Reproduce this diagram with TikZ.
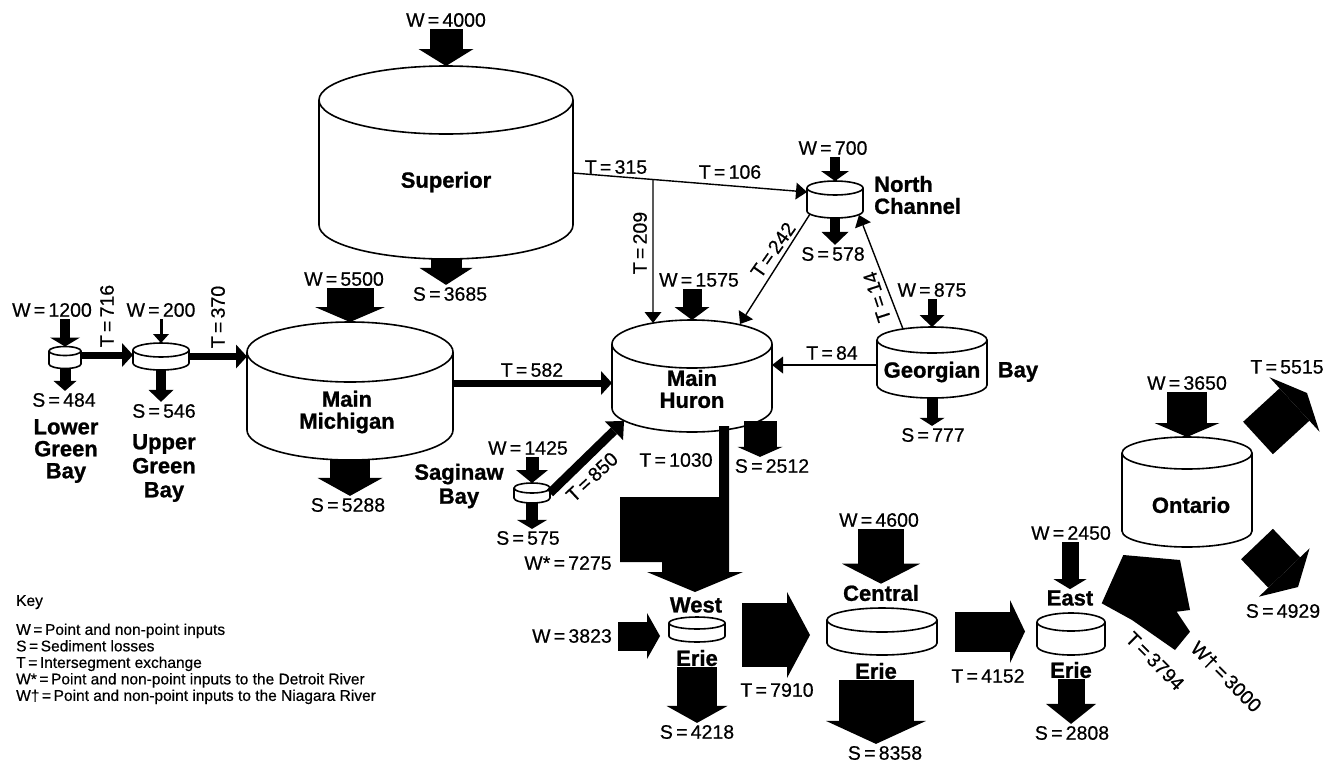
\documentclass[tikz,border=0pt]{standalone}
\usepackage{fontspec}
\setmainfont{Liberation Sans}
\newfontfamily\lblfont{Liberation Sans}[FakeBold=0.5]
\newfontfamily\namefont{Liberation Sans}[FakeBold=1]
\usetikzlibrary{arrows.meta,calc}

% cylinder outline round a lake node: node, x radius, y radius
\newcommand{\drawlake}[3]{%
  \filldraw[lakeline] ([yshift=-#3pt]#1.north west) -- ([yshift=#3pt]#1.south west)
    arc[start angle=180,end angle=360,x radius=#2,y radius=#3]
    -- ([yshift=-#3pt]#1.north east)
    arc[start angle=0,end angle=180,x radius=#2,y radius=#3] -- cycle;
  \draw[lakeline] ([yshift=-#3pt]#1.north east) arc[start angle=0,end angle=-180,x radius=#2,y radius=#3];
}

\begin{document}
\begin{tikzpicture}[x=1pt,y=1pt]
\tikzset{lake/.style={inner sep=0pt,outer sep=0pt},
  lakeline/.style={line width=1.6pt,draw=black,fill=white},
  lakename/.style={font=\namefont\bfseries\fontsize{22}{22}\selectfont,align=center,inner sep=1pt},
  lbl/.style={font=\lblfont\fontsize{19.5}{21}\selectfont,inner sep=2pt},
  keytxt/.style={font=\lblfont\fontsize{15.5}{16.5}\selectfont,align=left,inner sep=0pt},
  bigflow/.style n args={3}{line width=#1pt,-{Triangle[width=#2pt,length=#3pt,line width=0pt]}},
  tbar/.style={line width=7pt,-{Triangle[width=24pt,length=11pt,line width=0pt]}},
  tline/.style={line width=1.4pt,-{Triangle[width=17pt,length=11pt,line width=0pt]}}}
\useasboundingbox (0,0) rectangle (1336,-764);

% lakes
\node[lake,minimum width=254pt,minimum height=193pt] (sup) at (446,-162.5) {};
\node[lake,minimum width=206pt,minimum height=138pt] (mic) at (350,-391) {};
\node[lake,minimum width=160pt,minimum height=112pt] (hur) at (692,-376) {};
\node[lake,minimum width=32pt,minimum height=22pt] (lgb) at (65,-357.5) {};
\node[lake,minimum width=56pt,minimum height=27pt] (ugb) at (161,-356.5) {};
\node[lake,minimum width=56pt,minimum height=37pt] (nc) at (835,-199.5) {};
\node[lake,minimum width=110pt,minimum height=71pt] (gb) at (932,-362.5) {};
\node[lake,minimum width=36pt,minimum height=20pt] (sag) at (532,-493) {};
\node[lake,minimum width=56pt,minimum height=25pt] (we) at (697,-629.5) {};
\node[lake,minimum width=110pt,minimum height=47pt] (ce) at (882,-631.5) {};
\node[lake,minimum width=68pt,minimum height=42pt] (ee) at (1071,-634) {};
\node[lake,minimum width=130pt,minimum height=110pt] (ont) at (1187,-492) {};
\drawlake{sup}{127}{34}
\drawlake{mic}{103}{30}
\drawlake{hur}{80}{24}
\drawlake{lgb}{16}{4.5}
\drawlake{ugb}{28}{7}
\drawlake{nc}{28}{7}
\drawlake{gb}{55}{13}
\drawlake{sag}{18}{5}
\drawlake{we}{28}{6}
\drawlake{ce}{55}{12}
\drawlake{ee}{34}{9}
\drawlake{ont}{65}{16}

\node[lakename] (supt) at (446,-182) {Superior};
\node[lakename] (mict) at (347,-412) {Main\\Michigan};
\node[lakename] (hurt) at (692,-389) {Main\\Huron};
\node[lakename] (lgbt) at (66,-451) {Lower\\Green\\Bay};
\node[lakename] (ugbt) at (164,-468) {Upper\\[2pt]Green\\[2pt]Bay};
\node[lakename,align=left,anchor=west] (nct) at (873,-195) {North\\Channel};
\node[lakename] (gbt) at (932,-372) {Georgian};
\node[lakename] (gbt2) at (1018,-372) {Bay};
\node[lakename] (sagt) at (459,-486) {Saginaw\\[2pt]Bay};
\node[lakename] (wet) at (696,-605) {West};
\node[lakename] (wet2) at (697,-658) {Erie};
\node[lakename] (cet) at (881,-593) {Central};
\node[lakename] (cet2) at (876,-671) {Erie};
\node[lakename] (eet) at (1070,-598) {East};
\node[lakename] (eet2) at (1071,-670) {Erie};
\node[lakename] (ontt) at (1191,-505) {Ontario};

% inputs
\node[lbl] (w4000) at (446,-20) {W\,=\,4000};
\node[lbl] (w5500) at (344,-279) {W\,=\,5500};
\node[lbl] (w1200) at (52,-310) {W\,=\,1200};
\node[lbl] (w200) at (161,-310) {W\,=\,200};
\node[lbl] (w1575) at (699,-280) {W\,=\,1575};
\node[lbl] (w700) at (833,-148) {W\,=\,700};
\node[lbl] (w875) at (932,-290) {W\,=\,875};
\node[lbl] (w1425) at (528,-448) {W\,=\,1425};
\node[lbl] (wstar) at (568,-563) {W*\,=\,7275};
\node[lbl] (w3823) at (572,-636) {W\,=\,3823};
\node[lbl] (w4600) at (879,-520) {W\,=\,4600};
\node[lbl] (w2450) at (1071,-533) {W\,=\,2450};
\node[lbl] (w3650) at (1187,-383) {W\,=\,3650};

% losses
\node[lbl] (s3685) at (450,-294) {S\,=\,3685};
\node[lbl] (s5288) at (348,-505) {S\,=\,5288};
\node[lbl] (s484) at (64,-400) {S\,=\,484};
\node[lbl] (s546) at (164,-411) {S\,=\,546};
\node[lbl] (s578) at (833,-254) {S\,=\,578};
\node[lbl] (s777) at (933,-435) {S\,=\,777};
\node[lbl] (s575) at (528,-538) {S\,=\,575};
\node[lbl] (s2512) at (772,-466) {S\,=\,2512};
\node[lbl] (s4218) at (697,-732) {S\,=\,4218};
\node[lbl] (s8358) at (885,-753) {S\,=\,8358};
\node[lbl] (s2808) at (1072,-733) {S\,=\,2808};
\node[lbl] (s4929) at (1283,-611) {S\,=\,4929};

% exchanges
\node[lbl] (t315) at (616,-167) {T\,=\,315};
\node[lbl] (t106) at (730,-172) {T\,=\,106};
\node[lbl,rotate=90] (t209) at (640,-243) {T\,=\,209};
\node[lbl,rotate=55] (t242) at (773,-250) {T\,=\,242};
\node[lbl,rotate=108] (t14) at (877,-297) {T\,=\,14};
\node[lbl] (t84) at (832,-353) {T\,=\,84};
\node[lbl] (t582) at (532,-370) {T\,=\,582};
\node[lbl,rotate=90] (t716) at (107,-316) {T\,=\,716};
\node[lbl,rotate=90] (t370) at (218,-317) {T\,=\,370};
\node[lbl,rotate=43] (t850) at (592,-477) {T\,=\,850};
\node[lbl] (t1030) at (676,-460) {T\,=\,1030};
\node[lbl] (t7910) at (777,-690) {T\,=\,7910};
\node[lbl] (t4152) at (988,-676) {T\,=\,4152};
\node[lbl] (t5515) at (1287,-367) {T\,=\,5515};
\node[lbl,rotate=-45] (t3794) at (1155,-661) {T\,=\,3794};
\node[lbl,rotate=-45] (wdag) at (1226,-677) {W†\,=\,3000};

% input arrows
\draw[bigflow={33}{55}{17}] (w4000.south -| sup.north) -- (sup.north);
\draw[bigflow={47}{70}{15}] (w5500.south -| mic.north) -- (mic.north);
\draw[bigflow={10}{30}{9}] (w1200.south -| lgb.north) -- (lgb.north);
\draw[bigflow={3}{16}{9}] (w200.south -| ugb.north) -- (ugb.north);
\draw[bigflow={19}{35}{13}] (w1575.south -| hur.north) -- (hur.north);
\draw[bigflow={10}{28}{10}] (w700.south -| nc.north) -- (nc.north);
\draw[bigflow={9}{25}{12}] (w875.south -| gb.north) -- (gb.north);
\draw[bigflow={13}{32}{13}] (w1425.south -| sag.north) -- (sag.north);
\draw[bigflow={46}{78}{20}] (w4600.south -| cet.north) -- (cet.north);
\draw[bigflow={17}{33}{10}] (w2450.south -| eet.north) -- (eet.north);
\draw[bigflow={40}{65}{14}] (w3650.south -| ont.north) -- (ont.north);
\draw[bigflow={29}{46}{13},shorten <=4pt,shorten >=9pt] (w3823.east) -- (w3823.east -| we.west);

% loss arrows
\draw[bigflow={31}{53}{17}] (sup.south) -- (sup.south |- s3685.north);
\draw[bigflow={40}{65}{18}] (mic.south) -- (mic.south |- s5288.north);
\draw[bigflow={11}{23}{10}] (lgb.south) -- (lgb.south |- s484.north);
\draw[bigflow={10}{25}{12}] (ugb.south) -- (ugb.south |- s546.north);
\draw[bigflow={10}{27}{13}] (nc.south) -- (nc.south |- s578.north);
\draw[bigflow={11}{25}{8}] (gb.south) -- (gb.south |- s777.north);
\draw[bigflow={12}{30}{9}] (sag.south) -- (sag.south |- s575.north);
\coordinate (hurs) at ($(hur.south)+(68,11)$);
\draw[bigflow={33}{45}{10}] (hurs) -- (hurs |- s2512.north);
\draw[bigflow={40}{61}{17}] (wet2.south) -- (wet2.south |- s4218.north);
\draw[bigflow={75}{100}{23}] (cet2.south) -- (cet2.south |- s8358.north);
\draw[bigflow={27}{50}{20}] (eet2.south) -- (eet2.south |- s2808.north);

% exchange arrows
\coordinate (supout) at ([yshift=-10.5pt]sup.east);
\coordinate (ncin) at ([yshift=7.5pt]nc.west);
\draw[tline] (supout) -- (ncin);
\coordinate (junc) at ($(supout)!0.342!(ncin)$);
\draw[tline] (junc) -- ($(hur.north)+(-39,-3)$);
\draw[tline] ($(nc.south)+(-25,4)$) -- ($(hur.north)+(48,-4)$);
\draw[tline] ($(gb.north)+(-29,-2)$) -- ($(nc.south)+(24,3)$);
\draw[tline] ([yshift=-2.5pt]gb.west) -- ([yshift=-2.5pt]gb.west -| hur.east);
\draw[tbar] ([yshift=2.5pt]lgb.east) -- ([yshift=2.5pt]lgb.east -| ugb.west);
\draw[tbar] (ugb.east) -- (ugb.east -| mic.west);
\draw[tbar] ([yshift=8pt]mic.east) -- ([yshift=8pt]mic.east -| hur.west);
\draw[line width=9pt,-{Triangle[width=26pt,length=14pt,line width=0pt]}] (sag.east) -- ($(hur.south)+(-68,11)$);
\draw[bigflow={64}{86}{23},shorten <=17pt,shorten >=17pt] ([yshift=-5.5pt]we.east) -- ([yshift=-5.5pt]we.east -| ce.west);
\draw[bigflow={40}{63}{15},shorten <=18pt,shorten >=12pt] (ce.east) -- (ce.east -| ee.west);
\coordinate (t5515end) at (1307,-393);
\draw[bigflow={44}{74}{17}] ($(ont.east)+(6,54)$) -- (t5515end);
\coordinate (s4929end) at (1298,-587);
\draw[bigflow={44}{70}{20}] ($(ont.south east)+(5,3)$) -- (s4929end);

% Detroit River: T=1030 joined by W*
\fill (719,-426) -- (729,-426) -- (729,-572) -- (743,-572) -- (695,-592) -- (647,-572)
  -- (662,-572) -- (662,-562) -- (620,-562) -- (620,-497) -- (719,-497) -- cycle;
% Niagara River: T=3794 joined by W+
\fill (1101.7,-603.3) -- (1123.3,-555) -- (1180,-560) -- (1190,-610) -- (1176.7,-611.7)
  -- (1190,-631.7) -- (1175,-650) -- (1132,-620) -- cycle;

% key
\node[keytxt,anchor=north west] (key) at (16,-595) {Key\\[12.5pt]
  W\,=\,Point and non-point inputs\\
  S\,=\,Sediment losses\\
  T\,=\,Intersegment exchange\\
  W*\,=\,Point and non-point inputs to the Detroit River\\
  W†\,=\,Point and non-point inputs to the Niagara River};
\end{tikzpicture}
\end{document}
